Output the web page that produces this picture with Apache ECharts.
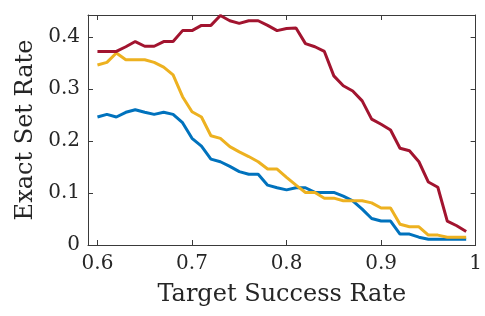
<!DOCTYPE html>
<html>
<head>
<meta charset="utf-8">
<script src="https://cdn.jsdelivr.net/npm/echarts@6/dist/echarts.min.js"></script>
<style>html,body{margin:0;padding:0;background:#fff;}#c{width:485px;height:316px;}</style>
</head>
<body>
<div id="c"></div>
<script>
const xValues = [0.60,0.61,0.62,0.63,0.64,0.65,0.66,0.67,0.68,0.69,0.70,0.71,0.72,0.73,0.74,0.75,0.76,0.77,0.78,0.79,0.80,0.81,0.82,0.83,0.84,0.85,0.86,0.87,0.88,0.89,0.90,0.91,0.92,0.93,0.94,0.95,0.96,0.97,0.98,0.99];
const blueValues = [0.246,0.251,0.246,0.255,0.260,0.255,0.251,0.255,0.251,0.235,0.205,0.190,0.165,0.160,0.151,0.141,0.136,0.136,0.115,0.110,0.106,0.110,0.110,0.101,0.101,0.101,0.094,0.085,0.069,0.051,0.046,0.046,0.021,0.021,0.015,0.011,0.011,0.011,0.011,0.011];
const yellowValues = [0.346,0.351,0.369,0.356,0.356,0.356,0.351,0.342,0.327,0.285,0.256,0.246,0.210,0.205,0.189,0.179,0.170,0.160,0.146,0.146,0.130,0.115,0.101,0.101,0.090,0.090,0.085,0.085,0.085,0.081,0.071,0.071,0.040,0.035,0.035,0.019,0.019,0.015,0.015,0.015];
const redValues = [0.372,0.372,0.372,0.381,0.391,0.382,0.382,0.391,0.391,0.412,0.412,0.422,0.422,0.441,0.431,0.426,0.431,0.431,0.422,0.412,0.416,0.417,0.387,0.381,0.372,0.325,0.306,0.296,0.277,0.242,0.232,0.221,0.186,0.181,0.160,0.121,0.111,0.046,0.037,0.026];
const xTicks = [0.6,0.7,0.8,0.9,1];
const yTicks = [0,0.1,0.2,0.3,0.4];
const xTitle = 'Target Success Rate';
const yTitle = 'Exact Set Rate';

const FONT = 'DejaVu Serif';
const TXT = '#262626';
const AX = '#3a3a3a';
const xMin = 0.59, xMax = 1.0, yMin = 0, yMax = 0.442;

function mk(vals) { return xValues.map((x, i) => [x, vals[i]]); }

const chart = echarts.init(document.getElementById('c'), null, {renderer: 'canvas'});
chart.setOption({
  animation: false,
  backgroundColor: '#fff',
  grid: {left: 88, right: 7, top: 15, bottom: 71, containLabel: false},
  xAxis: [{
    type: 'value', min: xMin, max: xMax, position: 'bottom',
    name: xTitle, nameLocation: 'middle', nameGap: 38,
    nameTextStyle: {fontFamily: FONT, fontSize: 24, color: TXT},
    axisLine: {show: true, onZero: false, lineStyle: {color: AX, width: 1}},
    axisTick: {show: true, inside: true, length: 5, customValues: xTicks, lineStyle: {color: AX}},
    axisLabel: {show: true, customValues: xTicks, margin: 9, fontFamily: FONT, fontSize: 20, color: TXT,
      formatter: v => String(+v.toFixed(2))},
    splitLine: {show: false}
  }, {
    type: 'value', min: xMin, max: xMax, position: 'top',
    axisLine: {show: true, onZero: false, lineStyle: {color: AX, width: 1}},
    axisTick: {show: true, inside: true, length: 5, customValues: xTicks, lineStyle: {color: AX}},
    axisLabel: {show: false}, splitLine: {show: false}
  }],
  yAxis: [{
    type: 'value', min: yMin, max: yMax, position: 'left',
    name: yTitle, nameLocation: 'middle', nameGap: 50, nameRotate: 90,
    nameTextStyle: {fontFamily: FONT, fontSize: 24, color: TXT},
    axisLine: {show: true, onZero: false, lineStyle: {color: AX, width: 1}},
    axisTick: {show: true, inside: true, length: 5, customValues: yTicks, lineStyle: {color: AX}},
    axisLabel: {show: true, customValues: yTicks, margin: 8, fontFamily: FONT, fontSize: 20, color: TXT,
      formatter: v => String(+v.toFixed(2))},
    splitLine: {show: false}
  }, {
    type: 'value', min: yMin, max: yMax, position: 'right',
    axisLine: {show: true, onZero: false, lineStyle: {color: AX, width: 1}},
    axisTick: {show: true, inside: true, length: 5, customValues: yTicks, lineStyle: {color: AX}},
    axisLabel: {show: false}, splitLine: {show: false}
  }],
  series: [
    {type: 'line', data: mk(blueValues), showSymbol: false, symbol: 'none', lineStyle: {color: '#0072BD', width: 3}, itemStyle: {color: '#0072BD'}},
    {type: 'line', data: mk(yellowValues), showSymbol: false, symbol: 'none', lineStyle: {color: '#EDB120', width: 3}, itemStyle: {color: '#EDB120'}},
    {type: 'line', data: mk(redValues), showSymbol: false, symbol: 'none', lineStyle: {color: '#A2142F', width: 3}, itemStyle: {color: '#A2142F'}}
  ]
});
</script>
</body>
</html>
